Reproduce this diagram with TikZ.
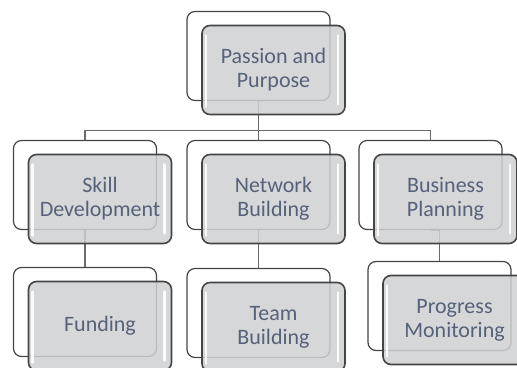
\documentclass[tikz,border=0pt]{standalone}
\usepackage{fontspec}
\setmainfont{Carlito}
\usetikzlibrary{positioning}
\definecolor{boxline}{HTML}{454545}
\definecolor{boxfill}{HTML}{CFD0D2}
\definecolor{boxtext}{HTML}{56627A}
\definecolor{connline}{HTML}{6A6A6A}

\begin{document}
\begin{tikzpicture}[x=1pt, y=1pt,
  back/.style={draw=boxline, fill=white, line width=1.2pt, rounded corners=8pt,
    minimum width=143pt, minimum height=89pt, inner sep=0pt},
  front/.style={draw=boxline, fill=boxfill, fill opacity=0.85, text opacity=1,
    line width=1.6pt, rounded corners=8pt, minimum width=143pt, minimum height=89pt,
    inner sep=0pt, text=boxtext, align=center,
    font=\fontsize{22}{24}\selectfont,
    path picture={
      \draw[white, line width=2.5pt, line cap=round, opacity=0.9]
        ([xshift=4pt, yshift=-10pt]path picture bounding box.north west) --
        ([xshift=4pt, yshift=8pt]path picture bounding box.south west);
      \draw[white, line width=2.5pt, line cap=round, opacity=0.9]
        ([xshift=-7pt, yshift=-10pt]path picture bounding box.north east) --
        ([xshift=-7pt, yshift=10pt]path picture bounding box.south east);}},
  conn/.style={draw=connline, line width=1.1pt}]
  \clip (0,0) rectangle (517,367);
  % back boxes
  \node[back] (bP) at (258.5,311) {};
  \node[back] (bS) at (85,182) {};
  \node[back] (bN) at (258.5,182) {};
  \node[back] (bB) at (430.5,182) {};
  \node[back] (bF) at (85,55) {};
  \node[back] (bT) at (258.5,54) {};
  \node[back] (bM) at (439.5,61) {};
  % connectors
  \draw[conn] (bP.south) -- ++(0,-29) -| (bS.north);
  \draw[conn] (bP.south) -- ++(0,-29) -| (bN.north);
  \draw[conn] (bP.south) -- ++(0,-29) -| (bB.north);
  \draw[conn] (bS.south) -- (bF.north);
  \draw[conn] (bN.south) -- (bT.north);
  \draw[conn] (bB.south) -| (bM.north);
  % front boxes
  \node[front] (fP) at ([shift={(15,-14)}]bP.center) {Passion and\\Purpose};
  \node[front] (fS) at ([shift={(15,-14)}]bS.center) {Skill\\Development};
  \node[front] (fN) at ([shift={(15,-14)}]bN.center) {Network\\Building};
  \node[front] (fB) at ([shift={(15,-14)}]bB.center) {Business\\Planning};
  \node[front] (fF) at ([shift={(15,-14)}]bF.center) {Funding};
  \node[front] (fT) at ([shift={(15,-14)}]bT.center) {Team\\Building};
  \node[front] (fM) at ([shift={(15,-14)}]bM.center) {Progress\\Monitoring};
\end{tikzpicture}
\end{document}
